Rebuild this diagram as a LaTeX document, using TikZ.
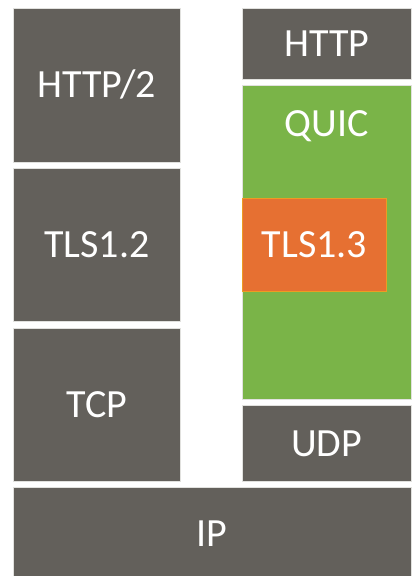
\documentclass[tikz,border=0pt]{standalone}
\usepackage{fontspec}
\setmainfont{Carlito}
\definecolor{layergray}{RGB}{99,96,91}
\definecolor{quicgreen}{RGB}{122,180,72}
\definecolor{tlsorange}{RGB}{230,112,50}
\definecolor{edgecol}{RGB}{225,225,222}
\begin{document}
\begin{tikzpicture}[x=1pt,y=-1pt,
  layer/.style={rectangle, inner sep=0pt, anchor=north west, draw=edgecol, line width=0.8pt, fill=layergray},
  lbl/.style={text=white, font=\fontsize{40}{44}\selectfont, inner sep=0pt}]
\fill[white] (0,0) rectangle (416,576);
\useasboundingbox (0,0) rectangle (416,576);
% left stack
\node[layer, minimum width=167.5pt, minimum height=154pt] (http2) at (12.7,7.5) {};
\node[layer, minimum width=167.5pt, minimum height=153.5pt] (tls12) at (12.7,167.7) {};
\node[layer, minimum width=167.5pt, minimum height=153.5pt] (tcp) at (12.7,327.5) {};
% right stack
\node[layer, minimum width=168.5pt, minimum height=71pt] (http) at (242,7.5) {};
\node[layer, fill=quicgreen, minimum width=168.5pt, minimum height=313.5pt] (quic) at (242,85) {};
\node[layer, fill=tlsorange, draw=tlsorange!70!yellow, minimum width=144pt, minimum height=93pt] (tls13) at (242,197.7) {};
\node[layer, minimum width=168.5pt, minimum height=76pt] (udp) at (242,405) {};
% bottom
\node[layer, minimum width=398pt, minimum height=89pt] (ip) at (12.7,487.3) {};
% labels
\node[lbl] at (http2.center) {HTTP/2};
\node[lbl] at (tls12.center) {TLS1.2};
\node[lbl] at (tcp.center) {TCP};
\node[lbl] at (http.center) {HTTP};
\node[lbl] at ([yshift=-41.5pt]quic.north) {QUIC};
\node[lbl] at (tls13.center) {TLS1.3};
\node[lbl] at (udp.center) {UDP};
\node[lbl] at ([yshift=-1pt]ip.center) {IP};
\end{tikzpicture}
\end{document}
